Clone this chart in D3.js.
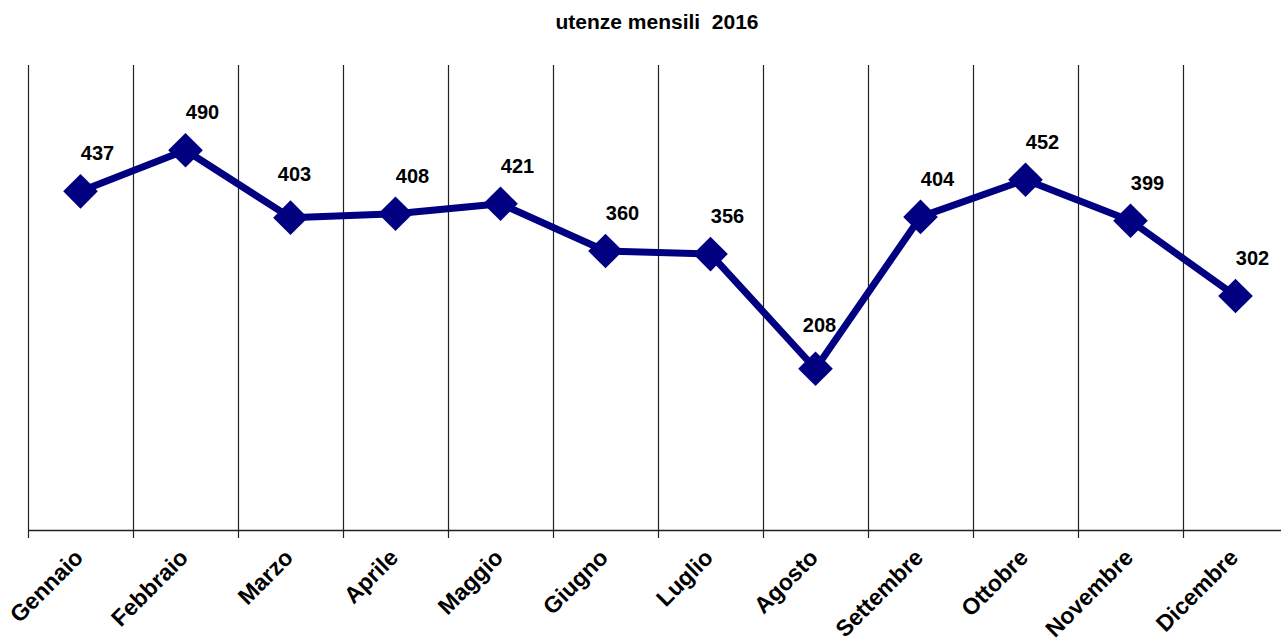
<!DOCTYPE html>
<html>
<head>
<meta charset="utf-8">
<script src="https://cdn.jsdelivr.net/npm/d3@7"></script>
<style>
  html, body { margin: 0; padding: 0; background: #fff; }
  svg { display: block; }
  text { font-family: "Liberation Sans", Arial, sans-serif; font-weight: bold; fill: #000; }
</style>
</head>
<body>
<svg id="chart" width="1281" height="639"></svg>
<script>
const months = ["Gennaio", "Febbraio", "Marzo", "Aprile", "Maggio", "Giugno", "Luglio", "Agosto", "Settembre", "Ottobre", "Novembre", "Dicembre"];
const values = [437, 490, 403, 408, 421, 360, 356, 208, 404, 452, 399, 302];
const title = "utenze mensili\u00a0\u00a02016";

const W = 1281, H = 639;
const svg = d3.select("#chart");
const plotLeft = 28, plotRight = 1288, plotTop = 65, plotBottom = 530;

const x = d3.scaleBand().domain(months).range([plotLeft, plotRight]).paddingInner(0).paddingOuter(0);
const y = d3.scaleLinear().domain([0, 600]).range([plotBottom, plotTop]);
const cx = d => x(d) + x.bandwidth() / 2;

// title
svg.append("text").attr("x", 657).attr("y", 29).attr("text-anchor", "middle")
  .style("font-size", "21px").text(title);

// vertical gridlines at category boundaries, extending as ticks below the axis
svg.append("g").selectAll("line").data(months).join("line")
  .attr("x1", d => x(d) + 0.5).attr("x2", d => x(d) + 0.5)
  .attr("y1", plotTop).attr("y2", plotBottom + 8)
  .attr("stroke", "#222").attr("stroke-width", 1.2);

// baseline axis
svg.append("line").attr("x1", plotLeft).attr("x2", W).attr("y1", plotBottom + 0.5).attr("y2", plotBottom + 0.5)
  .attr("stroke", "#222").attr("stroke-width", 1.5);

// category labels via axis
const axis = d3.axisBottom(x).tickSize(0).tickPadding(0);
const gAxis = svg.append("g").attr("transform", `translate(0,${plotBottom})`).call(axis);
gAxis.select(".domain").remove();
gAxis.selectAll(".tick text")
  .attr("text-anchor", "end")
  .attr("dy", 0)
  .attr("transform", "translate(4,29) rotate(-45)")
  .style("font-size", "23px")
  .style("font-family", "'Liberation Sans', Arial, sans-serif")
  .style("font-weight", "bold")
  .attr("fill", "#000");

// line
const line = d3.line().x((d, i) => cx(months[i])).y(d => y(d));
svg.append("path").datum(values).attr("d", line)
  .attr("fill", "none").attr("stroke", "#000080").attr("stroke-width", 7)
  .attr("stroke-linejoin", "round");

// diamond markers
const sym = d3.symbol().type(d3.symbolSquare).size(600);
svg.append("g").selectAll("path").data(values).join("path")
  .attr("d", sym)
  .attr("transform", (d, i) => `translate(${cx(months[i])},${y(d)}) rotate(45)`)
  .attr("fill", "#000080");

// value labels (placed straight above at local minima so they clear the line)
const isLocalMin = i => i > 0 && i < values.length - 1 && values[i] < values[i - 1] && values[i] < values[i + 1];
svg.append("g").selectAll("text").data(values).join("text")
  .attr("x", (d, i) => cx(months[i]) + (isLocalMin(i) ? 4 : 17))
  .attr("y", (d, i) => y(d) - (isLocalMin(i) ? 37 : 31))
  .attr("text-anchor", "middle")
  .style("font-size", "20px")
  .text(d => d);
</script>
</body>
</html>
